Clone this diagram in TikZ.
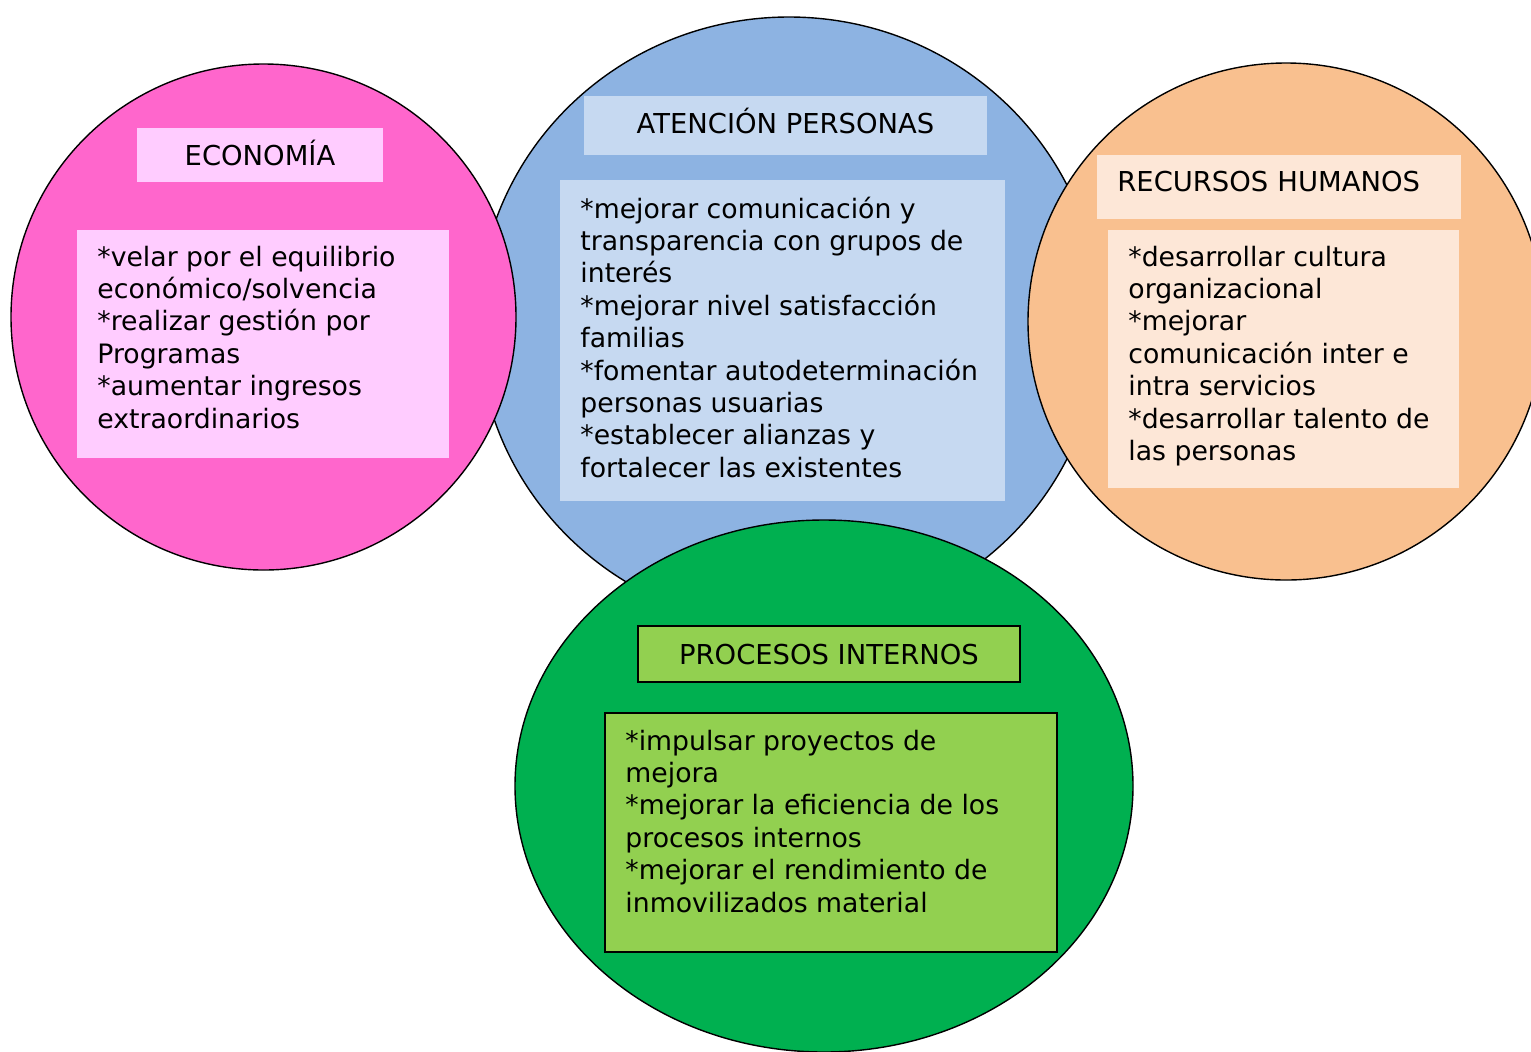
\documentclass[tikz,border=0pt]{standalone}
\usepackage{fontspec}
\setmainfont{DejaVu Sans}
\usetikzlibrary{shapes.geometric, positioning}

\definecolor{ecoPink}{HTML}{FF66CC}
\definecolor{ecoLight}{HTML}{FFCCFF}
\definecolor{atnBlue}{HTML}{8DB3E2}
\definecolor{atnLight}{HTML}{C6D9F1}
\definecolor{rrhOrange}{HTML}{F9C08F}
\definecolor{rrhLight}{HTML}{FDE7D7}
\definecolor{proGreen}{HTML}{00B050}
\definecolor{proLight}{HTML}{92D050}

\begin{document}
\begin{tikzpicture}[x=0.5pt, y=-0.5pt]


% GLOBAL SETTINGS
\newcommand{\titlesize}{\fontsize{13.7}{16}\selectfont}
\newcommand{\bodysize}{\fontsize{13.35}{16.2}\selectfont}
\tikzset{
circ/.style={ellipse, draw=black, line width=0.7pt, inner sep=0pt},
titlebox/.style={rectangle, inner sep=0pt, font=\titlesize},
bodybox/.style={rectangle, inner sep=0pt},
bodytext/.style={align=left, inner sep=0pt, font=\bodysize}
}
\useasboundingbox (0,0) rectangle (1531,1051);

% CIRCLES
\node[circ, fill=atnBlue, minimum width=311pt, minimum height=305pt] (atnC) at (789,322) {};
\node[circ, fill=ecoPink, minimum width=252.5pt, minimum height=253pt] (ecoC) at (263.5,317) {};
\node[circ, fill=rrhOrange, minimum width=258pt, minimum height=258.5pt] (rrhC) at (1286,321.5) {};
\node[circ, fill=proGreen, minimum width=309pt, minimum height=266pt] (proC) at (824,786) {};

% TITLES
\node[titlebox, fill=ecoLight, minimum width=123pt, text height=18.5pt, text depth=8.5pt, anchor=north] (ecoT) at (260,128) {ECONOMÍA};
\node[titlebox, fill=atnLight, minimum width=201.5pt, text height=18.35pt, text depth=11.15pt, anchor=north] (atnT) at (785.5,96) {ATENCIÓN PERSONAS};
\node[titlebox, fill=rrhLight, text width=162pt, align=left, inner xsep=10pt, text height=18.2pt, text depth=13.8pt, anchor=north west] (rrhT) at (1097,155) {RECURSOS HUMANOS};
\node[titlebox, fill=proLight, draw=black, line width=1pt, minimum width=191pt, text height=19pt, text depth=9pt, anchor=north] (proT) at (829,625) {PROCESOS INTERNOS};

% BOXES
\node[bodybox, fill=ecoLight, minimum width=186pt, minimum height=114pt, anchor=north west] (ecoB) at (77,230) {};
\node[bodybox, fill=atnLight, minimum width=222.5pt, minimum height=160.5pt, anchor=north west] (atnB) at (560,180) {};
\node[bodybox, fill=rrhLight, minimum width=175.5pt, minimum height=129pt, anchor=north west] (rrhB) at (1108,230) {};
\node[bodybox, fill=proLight, draw=black, line width=1pt, minimum width=226pt, minimum height=119.5pt, anchor=north west] (proB) at (604,712) {};

% TEXT
\node[bodytext, below right=7.7pt and 10pt of ecoB.north west] (ecoX) {
*velar por el equilibrio\\
económico/solvencia\\
*realizar gestión por\\
Programas\\
*aumentar ingresos\\
extraordinarios};
%
\node[bodytext, below right=8.2pt and 10pt of atnB.north west] (atnX) {
*mejorar comunicación y\\
transparencia con grupos de\\
interés\\
*mejorar nivel satisfacción\\
familias\\
*fomentar autodeterminación\\
personas usuarias\\
*establecer alianzas y\\
fortalecer las existentes};
%
\node[bodytext, below right=7.7pt and 10pt of rrhB.north west] (rrhX) {
*desarrollar cultura\\
organizacional\\
*mejorar\\
comunicación inter e\\
intra servicios\\
*desarrollar talento de\\
las personas};
%
\node[bodytext, below right=8.7pt and 10.5pt of proB.north west] (proX) {
*impulsar proyectos de\\
mejora\\
*mejorar la eficiencia de los\\
procesos internos\\
*mejorar el rendimiento de\\
inmovilizados material};

\end{tikzpicture}
\end{document}
